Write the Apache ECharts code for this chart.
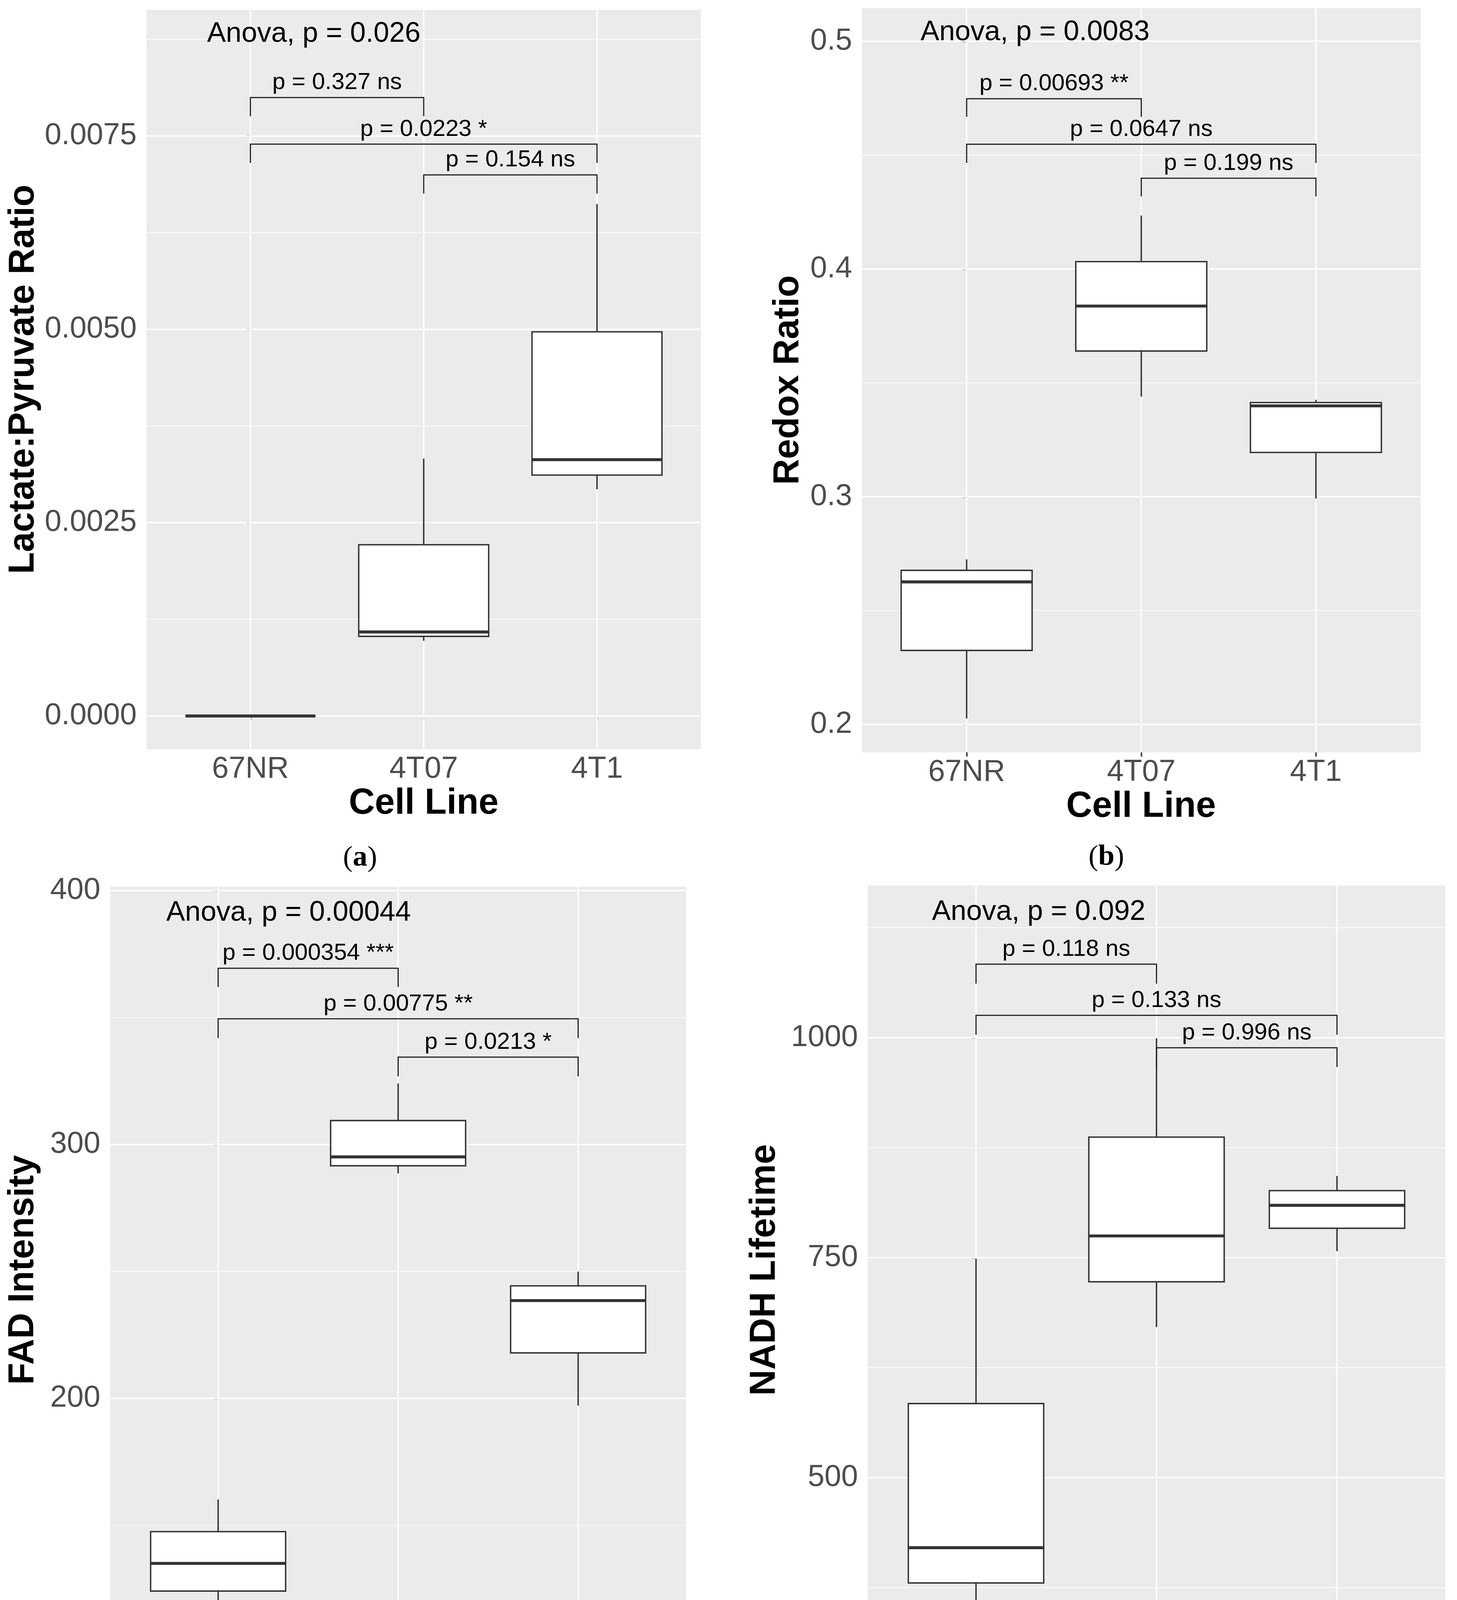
<!DOCTYPE html>
<html>
<head>
<meta charset="utf-8">
<script src="https://cdn.jsdelivr.net/npm/echarts@6/dist/echarts.min.js"></script>
<style>
html,body{margin:0;padding:0;background:#ffffff;}
#chart{width:3731px;height:4569px;}
</style>
</head>
<body>
<div id="chart"></div>
<script>
// ---------- data ----------
const categories = ['67NR', '4T07', '4T1'];

// box statistics per cell line: [lower whisker, Q1, median, Q3, upper whisker]
const lactateStats = [
  [0, 0, 0, 0, 0],
  [0.000972, 0.001029, 0.001086, 0.002214, 0.003328],
  [0.002931, 0.003115, 0.003314, 0.004967, 0.006620]
];
const redoxStats = [
  [0.20265, 0.23250, 0.26260, 0.26766, 0.27247],
  [0.34398, 0.36396, 0.38371, 0.40321, 0.42343],
  [0.29920, 0.31942, 0.33989, 0.34133, 0.34254]
];
const fadStats = [
  [113.4, 124.1, 135.0, 147.5, 160.2],
  [288.6, 291.6, 295.1, 309.4, 324.0],
  [197.1, 217.9, 238.5, 244.3, 249.9]
];
const nadhStats = [
  [339.6, 380.3, 420.4, 584.2, 748.7],
  [671.1, 722.6, 774.7, 887.0, 999.3],
  [757.4, 783.4, 809.5, 826.2, 842.9]
];

// pairwise comparison brackets: [from group, to group, bracket level, tip end]
const lactateBrackets = [[0, 1, 0.007997, 0.007755], [0, 2, 0.007394, 0.007152], [1, 2, 0.006996, 0.006755]];
const lactateBracketLabels = ['p = 0.327 ns', 'p = 0.0223 *', 'p = 0.154 ns'];
const redoxBrackets = [[0, 1, 0.47472, 0.46677], [0, 2, 0.45474, 0.44655], [1, 2, 0.43981, 0.43186]];
const redoxBracketLabels = ['p = 0.00693 **', 'p = 0.0647 ns', 'p = 0.199 ns'];
const fadBrackets = [[0, 1, 369.4, 362.0], [0, 2, 349.5, 341.9], [1, 2, 334.4, 326.8]];
const fadBracketLabels = ['p = 0.000354 ***', 'p = 0.00775 **', 'p = 0.0213 *'];
const nadhBrackets = [[0, 1, 1083.6, 1061.5], [0, 2, 1025.4, 1003.3], [1, 2, 988.6, 966.6]];
const nadhBracketLabels = ['p = 0.118 ns', 'p = 0.133 ns', 'p = 0.996 ns'];

// global test labels: [x (group units), y]
const lactateAnova = [-0.25, 0.008820];
const redoxAnova = [-0.264, 0.50385];
const fadAnova = [-0.288, 391.2];
const nadhAnova = [-0.244, 1142.7];
const anovaLabels = ['Anova, p = 0.026', 'Anova, p = 0.0083', 'Anova, p = 0.00044', 'Anova, p = 0.092'];

// axis ticks
const lactateTicks = [0, 0.0025, 0.005, 0.0075];
const lactateMinor = [0.00125, 0.00375, 0.00625, 0.00875];
const redoxTicks = [0.2, 0.3, 0.4, 0.5];
const redoxMinor = [0.25, 0.35, 0.45];
const fadTicks = [100, 200, 300, 400];
const fadMinor = [150, 250, 350];
const nadhTicks = [500, 750, 1000];
const nadhMinor = [375, 625, 875, 1125];

const yTitles = ['Lactate:Pyruvate Ratio', 'Redox Ratio', 'FAD Intensity', 'NADH Lifetime'];
const captions = ['a', 'b', 'c', 'd'];

// ---------- layout / style ----------
const SANS = '"Liberation Sans", Arial, Helvetica, sans-serif';
const SERIF = '"Liberation Serif", "Times New Roman", serif';
const panels = [
  {grid: {left: 375, top: 25, width: 1420, height: 1893}, yMin: -0.00043, yMax: 0.009132,
   stats: lactateStats, brackets: lactateBrackets, blabels: lactateBracketLabels, anova: lactateAnova,
   ticks: lactateTicks, minor: lactateMinor, fmt: v => v.toFixed(4),
   yTitle: [61, 971], xTitle: [1085, 2058], caption: [922, 2197]},
  {grid: {left: 2207, top: 21, width: 1431, height: 1905}, yMin: 0.18777, yMax: 0.51446,
   stats: redoxStats, brackets: redoxBrackets, blabels: redoxBracketLabels, anova: redoxAnova,
   ticks: redoxTicks, minor: redoxMinor, fmt: v => v.toFixed(1),
   yTitle: [2019, 973], xTitle: [2922, 2066], caption: [2833, 2195]},
  {grid: {left: 282, top: 2270, width: 1475, height: 1963}, yMin: 99.5, yMax: 401.5,
   stats: fadStats, brackets: fadBrackets, blabels: fadBracketLabels, anova: fadAnova,
   ticks: fadTicks, minor: fadMinor, fmt: v => String(Math.round(v)),
   yTitle: [60, 3251], xTitle: [1020, 4379], caption: [923, 4510]},
  {grid: {left: 2222, top: 2267, width: 1479, height: 1969}, yMin: 298.8, yMax: 1172.9,
   stats: nadhStats, brackets: nadhBrackets, blabels: nadhBracketLabels, anova: nadhAnova,
   ticks: nadhTicks, minor: nadhMinor, fmt: v => String(Math.round(v)),
   yTitle: [1959, 3251], xTitle: [2962, 4379], caption: [2834, 4510]}
];

const grids = [], xAxes = [], yAxes = [], series = [], graphics = [];
const catIdx = categories.map((c, i) => i);

panels.forEach((p, i) => {
  grids.push(Object.assign({show: true, backgroundColor: '#EBEBEB', borderWidth: 0, containLabel: false}, p.grid));
  xAxes.push({
    type: 'value', gridIndex: i, min: -0.6, max: 2.6,
    axisLine: {show: false}, splitLine: {show: false},
    axisTick: {show: true, customValues: catIdx, length: 11, lineStyle: {color: '#333333', width: 3.5}},
    axisLabel: {show: true, customValues: catIdx, formatter: v => categories[Math.round(v)],
      fontSize: 77, color: '#4D4D4D', fontFamily: SANS, margin: 13}
  });
  yAxes.push({
    type: 'value', gridIndex: i, min: p.yMin, max: p.yMax,
    axisLine: {show: false}, splitLine: {show: false},
    axisTick: {show: true, customValues: p.ticks, length: 11, lineStyle: {color: '#333333', width: 3.5}},
    axisLabel: {show: true, customValues: p.ticks, formatter: p.fmt,
      fontSize: 77, color: '#4D4D4D', fontFamily: SANS, margin: 25}
  });
  // minor horizontal grid lines
  series.push({
    type: 'custom', xAxisIndex: i, yAxisIndex: i, z: 1, silent: true,
    data: p.minor.map(v => [0, v]),
    renderItem: (params, api) => {
      const cs = params.coordSys;
      const y = api.coord([0, api.value(1)])[1];
      return {type: 'line', shape: {x1: cs.x, y1: y, x2: cs.x + cs.width, y2: y},
        style: {stroke: '#FFFFFF', lineWidth: 1.7}};
    }
  });
  // major horizontal grid lines
  series.push({
    type: 'custom', xAxisIndex: i, yAxisIndex: i, z: 1, silent: true,
    data: p.ticks.map(v => [0, v]),
    renderItem: (params, api) => {
      const cs = params.coordSys;
      const y = api.coord([0, api.value(1)])[1];
      return {type: 'line', shape: {x1: cs.x, y1: y, x2: cs.x + cs.width, y2: y},
        style: {stroke: '#FFFFFF', lineWidth: 3.4}};
    }
  });
  // vertical grid lines at categories
  series.push({
    type: 'custom', xAxisIndex: i, yAxisIndex: i, z: 1, silent: true,
    data: catIdx.map(c => [c, p.ticks[0]]),
    renderItem: (params, api) => {
      const cs = params.coordSys;
      const x = api.coord([api.value(0), p.ticks[0]])[0];
      return {type: 'line', shape: {x1: x, y1: cs.y, x2: x, y2: cs.y + cs.height},
        style: {stroke: '#FFFFFF', lineWidth: 3.4}};
    }
  });
  // boxplots
  series.push({
    type: 'custom', name: yTitles[i], xAxisIndex: i, yAxisIndex: i, z: 3,
    data: p.stats.map((s, k) => [k].concat(s)),
    encode: {x: 0, y: [1, 2, 3, 4, 5]},
    renderItem: (params, api) => {
      const x = api.value(0);
      const lo = api.value(1), q1 = api.value(2), med = api.value(3), q3 = api.value(4), hi = api.value(5);
      const cx = api.coord([x, med])[0];
      const xl = api.coord([x - 0.375, med])[0];
      const xr = api.coord([x + 0.375, med])[0];
      const yLo = api.coord([x, lo])[1], yQ1 = api.coord([x, q1])[1], yMed = api.coord([x, med])[1];
      const yQ3 = api.coord([x, q3])[1], yHi = api.coord([x, hi])[1];
      const st = {stroke: '#333333', lineWidth: 3.6};
      return {type: 'group', children: [
        {type: 'line', shape: {x1: cx, y1: yHi, x2: cx, y2: yQ3}, style: st},
        {type: 'line', shape: {x1: cx, y1: yQ1, x2: cx, y2: yLo}, style: st},
        {type: 'rect', shape: {x: xl, y: yQ3, width: xr - xl, height: yQ1 - yQ3},
          style: {fill: '#FFFFFF', stroke: '#333333', lineWidth: 3.6}},
        {type: 'line', shape: {x1: xl, y1: yMed, x2: xr, y2: yMed},
          style: {stroke: '#333333', lineWidth: 7.6}}
      ]};
    }
  });
  // comparison brackets
  series.push({
    type: 'custom', xAxisIndex: i, yAxisIndex: i, z: 4, silent: true,
    data: p.brackets,
    renderItem: (params, api) => {
      const a = api.value(0), b = api.value(1), lvl = api.value(2), tip = api.value(3);
      const pa = api.coord([a, lvl]), pb = api.coord([b, lvl]);
      const ta = api.coord([a, tip]), tb = api.coord([b, tip]);
      return {type: 'group', children: [
        {type: 'polyline', shape: {points: [ta, pa, pb, tb]},
          style: {stroke: '#222222', lineWidth: 3, fill: null}},
        {type: 'text', x: (pa[0] + pb[0]) / 2, y: pa[1] - 38,
          style: {text: p.blabels[params.dataIndex], fontSize: 60, fontFamily: SANS, fill: '#000000',
            align: 'center', verticalAlign: 'middle'}}
      ]};
    }
  });
  // global test label
  series.push({
    type: 'custom', xAxisIndex: i, yAxisIndex: i, z: 4, silent: true,
    data: [p.anova],
    renderItem: (params, api) => {
      const pt = api.coord([api.value(0), api.value(1)]);
      return {type: 'text', x: pt[0], y: pt[1],
        style: {text: anovaLabels[i], fontSize: 72, fontFamily: SANS, fill: '#000000',
          align: 'left', verticalAlign: 'middle'}};
    }
  });
  // titles and captions
  graphics.push({type: 'text', x: p.yTitle[0], y: p.yTitle[1], rotation: Math.PI / 2,
    style: {text: yTitles[i], fontSize: 92, fontWeight: 'bold', fontFamily: SANS, fill: '#000000',
      align: 'center', verticalAlign: 'middle'}});
  graphics.push({type: 'text', x: p.xTitle[0], y: p.xTitle[1],
    style: {text: 'Cell Line', fontSize: 92, fontWeight: 'bold', fontFamily: SANS, fill: '#000000',
      align: 'center', verticalAlign: 'middle'}});
  graphics.push({type: 'text', x: p.caption[0], y: p.caption[1],
    style: {text: '{p|(}{b|' + captions[i] + '}{p|)}', align: 'center', verticalAlign: 'middle',
      rich: {
        p: {fontSize: 75, fontFamily: SERIF, fill: '#000000'},
        b: {fontSize: 75, fontFamily: SERIF, fontWeight: 'bold', fill: '#000000'}
      }}});
});

const chart = echarts.init(document.getElementById('chart'), null, {renderer: 'canvas'});
chart.setOption({
  animation: false,
  backgroundColor: '#FFFFFF',
  grid: grids,
  xAxis: xAxes,
  yAxis: yAxes,
  series: series,
  graphic: graphics
});
</script>
</body>
</html>
